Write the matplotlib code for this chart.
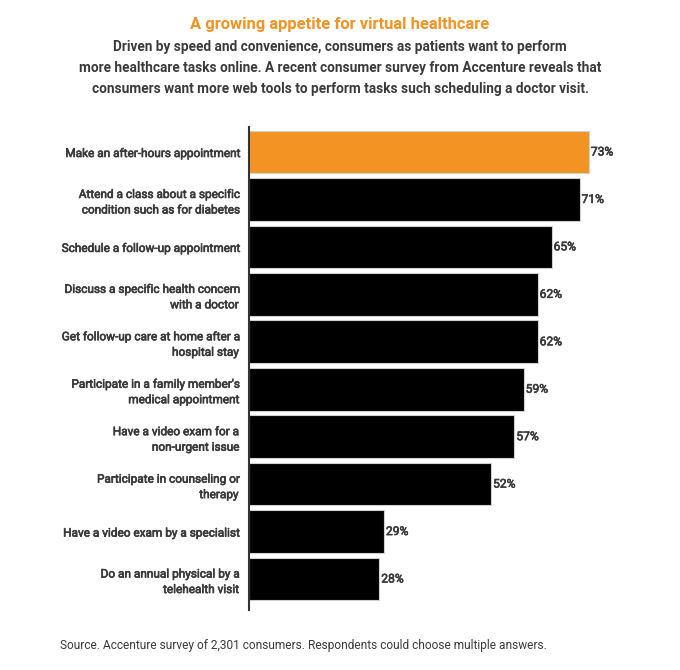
import matplotlib.pyplot as plt
import matplotlib.patheffects as pe

labels = [
    "Make an after-hours appointment",
    "Attend a class about a specific\ncondition such as for diabetes",
    "Schedule a follow-up appointment",
    "Discuss a specific health concern\nwith a doctor",
    "Get follow-up care at home after a\nhospital stay",
    "Participate in a family member's\nmedical appointment",
    "Have a video exam for a\nnon-urgent issue",
    "Participate in counseling or\ntherapy",
    "Have a video exam by a specialist",
    "Do an annual physical by a\ntelehealth visit",
]
values = [73, 71, 65, 62, 62, 59, 57, 52, 29, 28]
colors = ["#f39324"] + ["#000000"] * 9

plt.rcParams['font.family'] = ['Roboto', 'DejaVu Sans']
text_col = "#3a3a3a"
# fake a medium weight: regular glyphs with a thin outline
medium = [pe.withStroke(linewidth=0.45, foreground=text_col)]

fig = plt.figure(figsize=(6.8, 6.7), dpi=100)
ax = fig.add_axes([249 / 680, 1 - 610 / 670, 372.6 / 680, 483 / 670])

pos = list(range(len(values)))
ax.barh(pos, values, height=0.9, color=colors, edgecolor="#d0d0d0", linewidth=0.8)
for p, v in zip(pos, values):
    ax.text(v + 0.4, p, f"{v}%", va="center", ha="left", fontsize=8.7,
            color=text_col, path_effects=medium)

ax.set_xlim(0, 80)
ax.set_ylim(9.653, -0.527)
ax.set_yticks(pos)
ax.set_yticklabels(labels, fontsize=8.5, color=text_col,
                   ha="right", multialignment="right", linespacing=1.25)
for t in ax.get_yticklabels():
    t.set_path_effects(medium)
ax.tick_params(axis="y", length=0, pad=8)
ax.set_xticks([])
for s in ["top", "right", "bottom"]:
    ax.spines[s].set_visible(False)
ax.spines["left"].set_color("#333333")
ax.spines["left"].set_linewidth(1.5)

fig.text(0.5, 1 - 24 / 670, "A growing appetite for virtual healthcare",
         ha="center", va="center", fontsize=11.9, fontweight="bold", color="#f39324")
subtitle = ["Driven by speed and convenience, consumers as patients want to perform",
            "more healthcare tasks online. A recent consumer survey from Accenture reveals that",
            "consumers want more web tools to perform tasks such scheduling a doctor visit."]
for i, line in enumerate(subtitle):
    fig.text(0.5, 1 - (47 + 21 * i) / 670, line, ha="center", va="center",
             fontsize=9.8, fontweight="bold", color=text_col)

fig.text(60 / 680, 1 - 646 / 670,
         "Source. Accenture survey of 2,301 consumers. Respondents could choose multiple answers.",
         ha="left", va="center", fontsize=8.6, color=text_col)

fig.savefig("out.png", dpi=100, facecolor="white")
